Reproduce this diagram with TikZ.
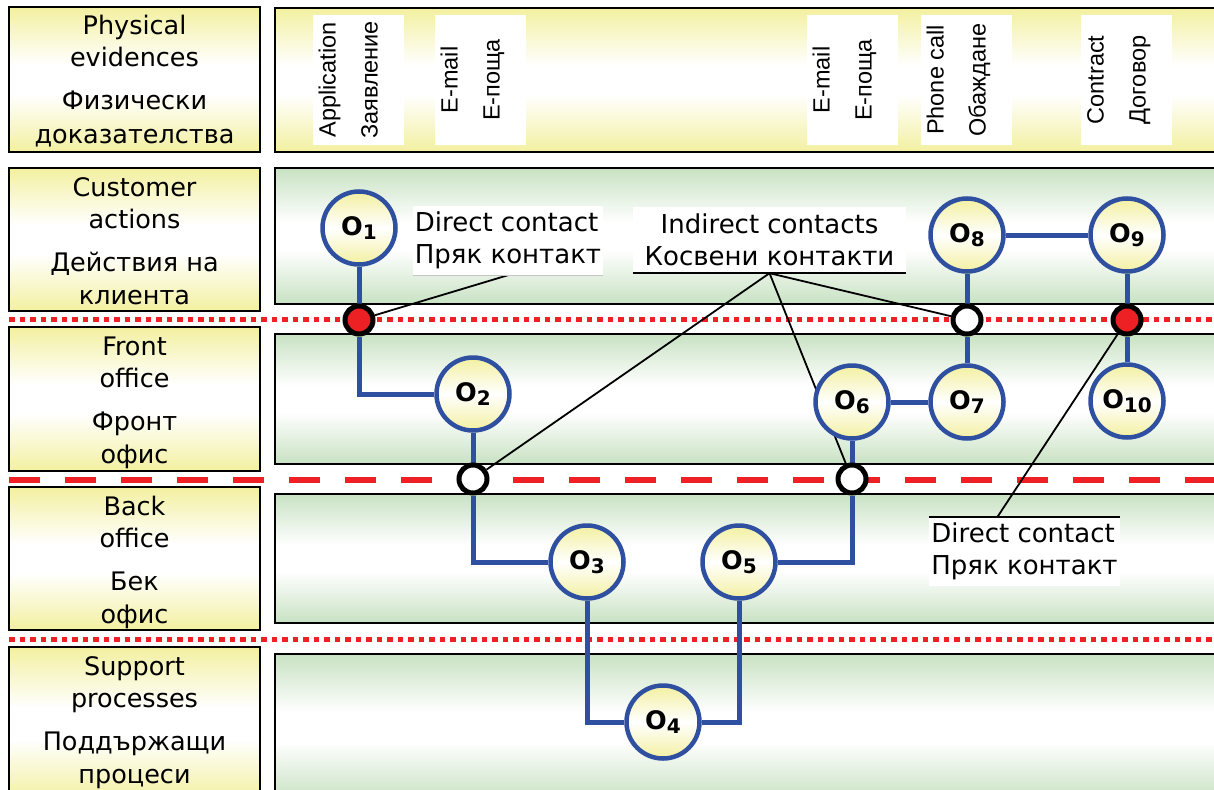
\documentclass[tikz,border=0pt]{standalone}
\usepackage{fontspec}
\setmainfont{DejaVu Sans}
\newfontfamily\arialfont{Liberation Sans}
\definecolor{laneyel}{RGB}{243,240,160}
\definecolor{lanegrn}{RGB}{200,226,195}
\definecolor{cblue}{RGB}{47,80,160}
\definecolor{cred}{RGB}{237,32,36}
\pgfdeclareverticalshading{yelband}{100bp}{color(0bp)=(laneyel); color(25bp)=(laneyel); color(45bp)=(white); color(55bp)=(white); color(75bp)=(laneyel); color(100bp)=(laneyel)}
\pgfdeclareverticalshading{grnband}{100bp}{color(0bp)=(lanegrn); color(25bp)=(lanegrn); color(45bp)=(white); color(55bp)=(white); color(75bp)=(lanegrn); color(100bp)=(lanegrn)}
\pgfdeclarelayer{bg}
\pgfdeclarelayer{lines}
\pgfsetlayers{bg,lines,main}
\tikzset{
 yelshade/.style={shading=yelband},
 grnshade/.style={shading=grnband},
 lanebox/.style={draw=black,line width=2pt},
 lanetxt/.style={font=\fontsize{25.5}{30}\selectfont, anchor=base, inner sep=0pt},
 evbox/.style={fill=white, minimum width=91pt, minimum height=130pt, inner sep=0pt},
 evtxt/.style={font=\arialfont\fontsize{23.5}{23.5}\selectfont, rotate=90, anchor=base, inner sep=0pt},
 onode/.style={circle, draw=cblue, line width=4.5pt, minimum size=73pt, inner sep=0pt,
   top color=laneyel, bottom color=laneyel, middle color=white},
 contact/.style={circle, draw=black, line width=5pt, minimum size=28pt, inner sep=0pt},
 redc/.style={contact, fill=cred},
 whitec/.style={contact, fill=white},
 conn/.style={draw=cblue, line width=5pt},
 pointer/.style={draw=black, line width=1.8pt},
 lbl/.style={fill=white, font=\fontsize{26}{32}\selectfont, inner sep=0pt},
 dotline/.style={draw=cred, line width=5pt, dash pattern=on 5.5pt off 5pt},
 dashline/.style={draw=cred, line width=6.5pt, dash pattern=on 31pt off 25pt},
}
\newcommand\lanetext[6]{%
 \node[lanetxt] (#1a) at (134.5,#2+28) {#3};
 \node[lanetxt] (#1b) at (134.5,#2+60) {#4};
 \node[lanetxt] (#1c) at (134.5,#2+103) {#5};
 \node[lanetxt] (#1d) at (134.5,#2+136) {#6};}
\newcommand\evid[4]{%
 \node[evbox] (#1) at (#2+45.5,80) {};
 \node[evtxt] (#1a) at (#2+22.5,80) {#3};
 \node[evtxt] (#1b) at (#2+64.5,80) {#4};}
\newcommand\olab[1]{\bfseries\fontsize{25.5}{26}\selectfont O\raisebox{-4pt}{\fontsize{20}{20}\selectfont #1}}
\begin{document}
\begin{tikzpicture}[x=1pt,y=-1pt]
\useasboundingbox (0,0) rectangle (1214,789);
\begin{pgfonlayer}{bg}
\fill[white] (0,0) rectangle (1214,789);
\path[lanebox, yelshade] (9,7) rectangle (260,152);
\path[lanebox, yelshade] (275,8) rectangle (1222,152);
\path[lanebox, yelshade] (9,168) rectangle (260,311);
\path[lanebox, grnshade] (275,168) rectangle (1222,304);
\path[lanebox, yelshade] (9,327) rectangle (260,471);
\path[lanebox, grnshade] (275,334) rectangle (1222,464);
\path[lanebox, yelshade] (9,487) rectangle (260,630);
\path[lanebox, grnshade] (275,494) rectangle (1222,623);
\path[lanebox, yelshade] (9,647) rectangle (260,800);
\path[lanebox, grnshade] (275,654) rectangle (1222,800);
\draw[dotline] (9,319.5) -- (1216,319.5);
\draw[dashline] (9,480) -- (1216,480);
\draw[dotline] (9,639) -- (1216,639);
\end{pgfonlayer}

\lanetext{pe}{7}{Physical}{evidences}{Физически}{доказателства}
\lanetext{ca}{168}{Customer}{actions}{Действия на}{клиента}
\lanetext{fo}{327}{Front}{office}{Фронт}{офис}
\lanetext{bo}{487}{Back}{office}{Бек}{офис}
\lanetext{sp}{647}{Support}{processes}{Поддържащи}{процеси}

\evid{app}{313}{Application}{Заявление}
\evid{emA}{435}{E-mail}{E-поща}
\evid{emB}{807}{E-mail}{E-поща}
\evid{ph}{921}{Phone call}{Обаждане}
\evid{ct}{1081}{Contract}{Договор}

% process nodes
\node[onode] (O1) at (359,228) {\olab{1}};
\node[onode] (O2) at (473,394) {\olab{2}};
\node[onode] (O3) at (587,562) {\olab{3}};
\node[onode] (O4) at (663,722) {\olab{4}};
\node[onode] (O5) at (739,562) {\olab{5}};
\node[onode] (O6) at (852,402) {\olab{6}};
\node[onode] (O7) at (967,402) {\olab{7}};
\node[onode] (O8) at (967,235) {\olab{8}};
\node[onode] (O9) at (1127,235) {\olab{9}};
\node[onode] (O10) at (1127,401) {\olab{10}};

% contact points
\node[redc] (r1) at (359,320) {};
\node[whitec] (w8) at (967,320) {};
\node[redc] (r9) at (1127,320) {};
\node[whitec] (w2) at (473,479) {};
\node[whitec] (w6) at (852,479) {};

% labels
\node[lbl, align=left, minimum width=190pt, minimum height=69pt] (dc1) at (508,240.5) {Direct contact\\Пряк контакт};
\node[lbl, align=center, minimum width=273pt, minimum height=66pt] (ind) at (769.5,240) {Indirect contacts\\Косвени контакти};
\node[lbl, align=left, minimum width=191pt, minimum height=69pt] (dc2) at (1024.5,551.5) {Direct contact\\Пряк контакт};
\draw[gray!45, line width=0.8pt] (dc1.south west) -- (dc1.south east);
\draw[line width=2.4pt] (ind.south west) -- (ind.south east);
\draw[line width=2pt] (dc2.north west) -- (dc2.north east);

\begin{pgfonlayer}{lines}
\draw[pointer] (dc1.south) -- (r1);
\draw[pointer] (ind.south) -- (w2);
\draw[pointer] (ind.south) -- (w6);
\draw[pointer] (ind.south) -- (w8);
\draw[pointer] ([xshift=-27pt]dc2.north) -- (r9);
\draw[conn] (O1) -- (r1) |- (O2);
\draw[conn] (O2) -- (w2) |- (O3);
\draw[conn] (O3) |- (O4);
\draw[conn] (O4) -| (O5);
\draw[conn] (O5) -| (w6) -- (O6);
\draw[conn] (O6) -- (O7);
\draw[conn] (O7) -- (w8) -- (O8);
\draw[conn] (O8) -- (O9);
\draw[conn] (O9) -- (r9) -- (O10);
\end{pgfonlayer}
\end{tikzpicture}
\end{document}
